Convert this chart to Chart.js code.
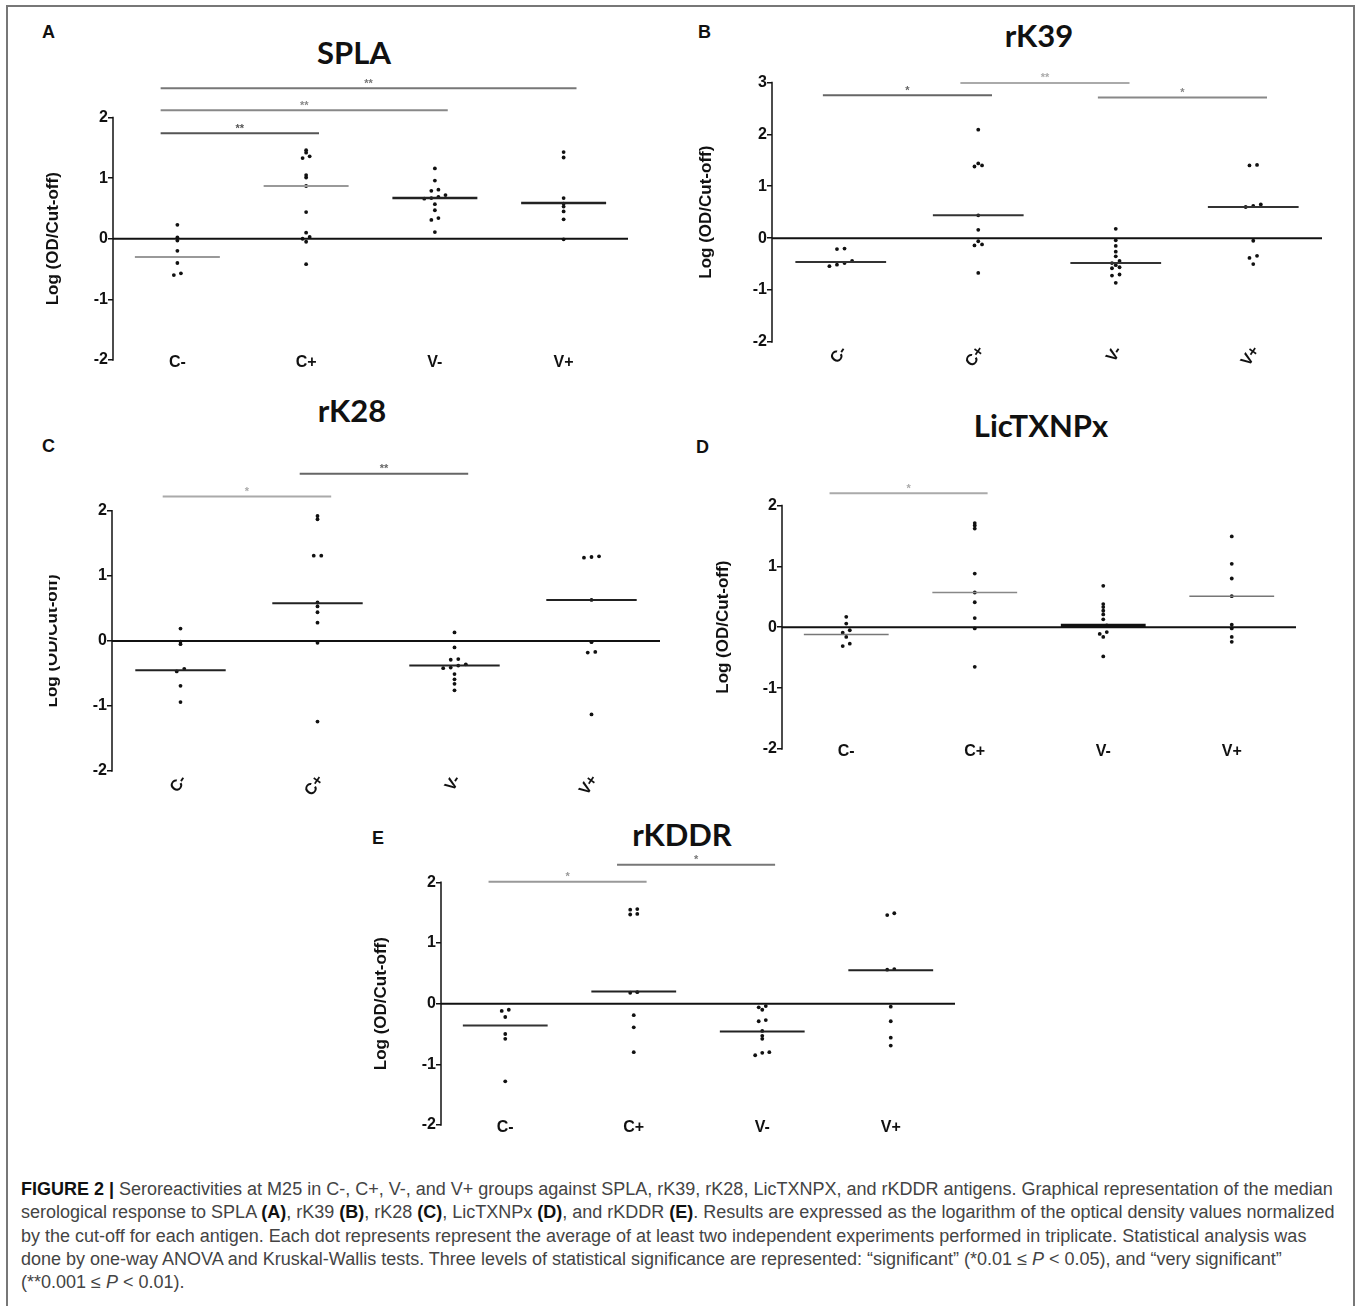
<!DOCTYPE html>
<html>
<head>
<meta charset="utf-8">
<script src="https://cdn.jsdelivr.net/npm/chart.js@4.4.1/dist/chart.umd.min.js"></script>
<style>
  body { margin: 0; background: #fff; width: 1362px; height: 1306px; position: relative; overflow: hidden; font-family: "Liberation Sans", Arial, sans-serif; }
  #frame { position: absolute; left: 6px; top: 5px; width: 1345px; height: 1310px; border: 2px solid #777; }
  canvas { position: absolute; }
  .letter { position: absolute; font-weight: bold; font-size: 18px; line-height: 18px; color: #111; }
  .ptitle { position: absolute; font-family: Lato, sans-serif; font-weight: bold; font-size: 31px; line-height: 32px; color: #111; transform: translate(-50%, -50%); white-space: nowrap; }
  .cap { position: absolute; left: 21px; font-size: 18px; line-height: 23.3px; color: #444; white-space: nowrap; }
  .cap b { color: #111; }
</style>
</head>
<body>
<div id="frame"></div>

<div class="letter" style="left:42px;top:23px">A</div>
<div class="letter" style="left:698px;top:23px">B</div>
<div class="letter" style="left:42px;top:437px">C</div>
<div class="letter" style="left:696px;top:438px">D</div>
<div class="letter" style="left:372px;top:829px">E</div>

<div class="ptitle" style="left:354px;top:52px">SPLA</div>
<div class="ptitle" style="left:1039px;top:35px">rK39</div>
<div class="ptitle" style="left:352px;top:410px">rK28</div>
<div class="ptitle" style="left:1041px;top:425px">LicTXNPx</div>
<div class="ptitle" style="left:682px;top:834px">rKDDR</div>

<canvas id="cA" width="603" height="316" style="left:31px;top:68px"></canvas>
<canvas id="cB" width="638" height="304" style="left:690px;top:68px"></canvas>
<div style="position:absolute;left:49px;top:458px;width:620px;height:343px;overflow:hidden">
  <canvas id="cC" width="636" height="343" style="left:-19px;top:0"></canvas>
</div>
<canvas id="cD" width="602" height="299" style="left:700px;top:474px"></canvas>
<canvas id="cE" width="602" height="301" style="left:359px;top:848px"></canvas>

<div class="cap" style="top:1178px"><b>FIGURE 2 |</b> Seroreactivities at M25 in C-, C+, V-, and V+ groups against SPLA, rK39, rK28, LicTXNPX, and rKDDR antigens. Graphical representation of the median</div>
<div class="cap" style="top:1201px">serological response to SPLA <b>(A)</b>, rK39 <b>(B)</b>, rK28 <b>(C)</b>, LicTXNPx <b>(D)</b>, and rKDDR <b>(E)</b>. Results are expressed as the logarithm of the optical density values normalized</div>
<div class="cap" style="top:1225px">by the cut-off for each antigen. Each dot represents represent the average of at least two independent experiments performed in triplicate. Statistical analysis was</div>
<div class="cap" style="top:1248px">done by one-way ANOVA and Kruskal-Wallis tests. Three levels of statistical significance are represented: “significant” (*0.01 ≤ <i>P</i> &lt; 0.05), and “very significant”</div>
<div class="cap" style="top:1271px">(**0.001 ≤ <i>P</i> &lt; 0.01).</div>

<script>
// groups
const categories = ['C-', 'C+', 'V-', 'V+'];

// SPLA
const splaCneg = [0.23, 0.02, -0.03, -0.2, -0.4, -0.57, -0.6];
const splaCpos = [1.46, 1.42, 1.36, 1.33, 1.05, 1.01, 0.87, 0.44, 0.1, 0.03, 0.0, -0.05, -0.42];
const splaVneg = [1.16, 0.96, 0.81, 0.79, 0.72, 0.69, 0.67, 0.66, 0.57, 0.47, 0.34, 0.31, 0.11];
const splaVpos = [1.43, 1.34, 0.67, 0.58, 0.53, 0.45, 0.32, -0.01];
const splaMedian = [-0.3, 0.87, 0.67, 0.59];
const splaSig = [[0, 1, 1.74, '**'], [0, 2, 2.12, '**'], [0, 3, 2.48, '**']];

// rK39
const rk39Cneg = [-0.2, -0.21, -0.44, -0.48, -0.51, -0.54];
const rk39Cpos = [2.09, 1.44, 1.4, 1.38, 0.44, 0.16, -0.06, -0.12, -0.14, -0.67];
const rk39Vneg = [0.18, -0.04, -0.15, -0.26, -0.35, -0.44, -0.48, -0.52, -0.56, -0.58, -0.7, -0.72, -0.86];
const rk39Vpos = [1.41, 1.4, 0.65, 0.62, 0.6, -0.05, -0.34, -0.38, -0.5];
const rk39Median = [-0.46, 0.44, -0.48, 0.6];
const rk39Sig = [[0, 1, 2.75, '*'], [1, 2, 2.99, '**'], [2, 3, 2.71, '*']];

// rK28
const rk28Cneg = [0.19, -0.01, -0.05, -0.43, -0.47, -0.69, -0.94];
const rk28Cpos = [1.92, 1.87, 1.31, 1.31, 0.59, 0.53, 0.44, 0.28, -0.03, -1.24];
const rk28Vneg = [0.13, -0.1, -0.28, -0.29, -0.36, -0.38, -0.41, -0.42, -0.51, -0.59, -0.66, -0.76];
const rk28Vpos = [1.3, 1.29, 1.28, 0.63, -0.02, -0.17, -0.18, -1.13];
const rk28Median = [-0.45, 0.58, -0.38, 0.63];
const rk28Sig = [[0, 1, 2.22, '*'], [1, 2, 2.57, '**']];

// LicTXNPx
const licCneg = [0.17, 0.06, -0.05, -0.09, -0.16, -0.27, -0.31];
const licCpos = [1.71, 1.67, 1.62, 0.88, 0.57, 0.41, 0.15, -0.02, -0.65];
const licVneg = [0.68, 0.38, 0.33, 0.27, 0.21, 0.13, 0.03, 0.02, -0.08, -0.11, -0.16, -0.48];
const licVpos = [1.49, 1.04, 0.8, 0.51, 0.04, -0.02, -0.16, -0.24];
const licMedian = [-0.12, 0.57, 0.03, 0.51];
const licSig = [[0, 1, 2.2, '*']];

// rKDDR
const kddrCneg = [-0.1, -0.12, -0.22, -0.5, -0.58, -1.28];
const kddrCpos = [1.56, 1.55, 1.48, 1.47, 0.19, 0.18, -0.19, -0.39, -0.8];
const kddrVneg = [-0.04, -0.06, -0.1, -0.27, -0.29, -0.45, -0.53, -0.58, -0.8, -0.81, -0.85];
const kddrVpos = [1.49, 1.46, 0.57, 0.56, -0.05, -0.29, -0.56, -0.69];
const kddrMedian = [-0.36, 0.2, -0.46, 0.55];
const kddrSig = [[0, 1, 2.01, '*'], [1, 2, 2.29, '*']];

// spread dots with (almost) the same value side by side
function swarm(vals, idx) {
    const s = vals.slice().sort((a, b) => a - b);
    const pts = [];
    let i = 0;
    while (i < s.length) {
        let j = i;
        while (j + 1 < s.length && s[j + 1] - s[j] < 0.04) j++;
        const n = j - i + 1;
        for (let k = 0; k < n; k++) pts.push({ x: idx + (k - (n - 1) / 2) * 0.055, y: s[i + k] });
        i = j + 1;
    }
    return pts;
}

// axis line, group labels, stars and y title
const decor = {
    id: 'decor',
    afterDatasetsDraw(chart, args, opts) {
        const { ctx, chartArea, scales: { x, y } } = chart;
        const yb = y.getPixelForValue(-2), yt = y.getPixelForValue(opts.topTick);
        ctx.save();
        ctx.strokeStyle = '#111';
        ctx.lineWidth = 1.5;
        ctx.beginPath();
        ctx.moveTo(chartArea.left, yb + 0.75);
        ctx.lineTo(chartArea.left, yt - 0.75);
        ctx.stroke();

        ctx.font = 'bold 16px "Liberation Sans"';
        ctx.fillStyle = '#111';
        categories.forEach((c, i) => {
            const px = x.getPixelForValue(i);
            if (opts.rot) {
                ctx.save();
                ctx.translate(px + 3, yb + 6);
                ctx.rotate(-opts.rot * Math.PI / 180);
                ctx.textAlign = 'right';
                ctx.textBaseline = 'middle';
                ctx.fillText(c, 0, 0);
                ctx.restore();
            } else {
                ctx.textAlign = 'center';
                ctx.textBaseline = 'middle';
                ctx.fillText(c, px, yb + 3);
            }
        });

        ctx.font = 'bold 11px "Liberation Sans"';
        ctx.textAlign = 'center';
        ctx.textBaseline = 'bottom';
        opts.sig.forEach((s, k) => {
            ctx.fillStyle = opts.sigColors[k];
            const xm = x.getPixelForValue((s[0] - 0.13 + s[1] + 0.1) / 2);
            ctx.fillText(s[3], xm, y.getPixelForValue(s[2]) + 1);
        });

        ctx.translate(chartArea.left - opts.titleOffset, (yb + yt) / 2);
        ctx.rotate(-Math.PI / 2);
        ctx.font = 'bold 17px "Liberation Sans"';
        ctx.textBaseline = 'middle';
        ctx.fillStyle = '#111';
        ctx.fillText('Log (OD/Cut-off)', 0, 0);
        ctx.restore();
    }
};

function makePanel(id, groups, medians, sig, p) {
    const datasets = [];
    // zero line
    datasets.push({ type: 'line', data: [{ x: -0.5, y: 0 }, { x: 3.5, y: 0 }], borderColor: '#111', borderWidth: 2, pointRadius: 0, clip: false });
    // significance bars
    sig.forEach((s, k) => {
        datasets.push({ type: 'line', data: [{ x: s[0] - 0.13, y: s[2] }, { x: s[1] + 0.1, y: s[2] }],
            borderColor: p.sigColors[k], borderWidth: 2, pointRadius: 0, clip: false });
    });
    // medians
    medians.forEach((m, i) => {
        datasets.push({ type: 'line', data: [{ x: i - 0.33, y: m }, { x: i + 0.33, y: m }],
            borderColor: p.medStyle[i][0], borderWidth: p.medStyle[i][1], pointRadius: 0 });
    });
    // dots
    groups.forEach((g, i) => {
        datasets.push({ type: 'scatter', data: swarm(g, i), pointRadius: 1.9, pointBackgroundColor: '#111', pointBorderWidth: 0 });
    });

    new Chart(document.getElementById(id).getContext('2d'), {
        type: 'scatter',
        data: { datasets: datasets },
        plugins: [decor],
        options: {
            responsive: false,
            animation: false,
            devicePixelRatio: 1,
            layout: { padding: { left: 50, right: 6, top: 0, bottom: 0 } },
            plugins: {
                legend: { display: false },
                tooltip: { enabled: false },
                decor: { topTick: p.topTick, titleOffset: p.titleOffset, rot: p.rot, sig: sig, sigColors: p.sigColors }
            },
            scales: {
                x: {
                    type: 'linear', min: -0.5, max: 3.5,
                    afterFit: s => { s.height = p.xh; s.paddingLeft = 0; s.paddingRight = 0; },
                    grid: { display: false, drawTicks: false },
                    border: { display: false },
                    ticks: { display: false }
                },
                y: {
                    min: -2, max: p.ymax,
                    afterBuildTicks: s => {
                        const t = [];
                        for (let v = -2; v <= p.topTick; v++) t.push({ value: v });
                        s.ticks = t;
                    },
                    afterFit: s => { s.width = 32; s.paddingTop = 0; s.paddingBottom = 0; },
                    grid: { display: true, drawOnChartArea: false, drawTicks: true, tickLength: 5, color: '#111', lineWidth: 1.5 },
                    border: { display: false },
                    ticks: {
                        padding: 0,
                        color: '#111',
                        font: { family: 'Liberation Sans', size: 16, weight: 'bold' }
                    }
                }
            }
        }
    });
}

makePanel('cA', [splaCneg, splaCpos, splaVneg, splaVpos], splaMedian, splaSig, {
    ymax: 2.75, topTick: 2, rot: 0, xh: 24, titleOffset: 60,
    sigColors: ['#555', '#888', '#777'],
    medStyle: [['#777', 1.5], ['#999', 2], ['#222', 2.5], ['#222', 2.5]]
});
makePanel('cB', [rk39Cneg, rk39Cpos, rk39Vneg, rk39Vpos], rk39Median, rk39Sig, {
    ymax: 3.2, topTick: 3, rot: 55, xh: 30, titleOffset: 66,
    sigColors: ['#666', '#aaa', '#888'],
    medStyle: [['#333', 2], ['#333', 2], ['#333', 2], ['#333', 2]]
});
makePanel('cC', [rk28Cneg, rk28Cpos, rk28Vneg, rk28Vpos], rk28Median, rk28Sig, {
    ymax: 2.75, topTick: 2, rot: 55, xh: 30, titleOffset: 60,
    sigColors: ['#aaa', '#666'],
    medStyle: [['#222', 2], ['#222', 2], ['#222', 2], ['#222', 2]]
});
makePanel('cD', [licCneg, licCpos, licVneg, licVpos], licMedian, licSig, {
    ymax: 2.45, topTick: 2, rot: 0, xh: 24, titleOffset: 59,
    sigColors: ['#aaa'],
    medStyle: [['#777', 1.5], ['#888', 1.5], ['#111', 3.5], ['#777', 1.5]]
});
makePanel('cE', [kddrCneg, kddrCpos, kddrVneg, kddrVpos], kddrMedian, kddrSig, {
    ymax: 2.5, topTick: 2, rot: 0, xh: 24, titleOffset: 60,
    sigColors: ['#999', '#777'],
    medStyle: [['#333', 2], ['#222', 2], ['#222', 2], ['#222', 2]]
});
</script>
</body>
</html>
